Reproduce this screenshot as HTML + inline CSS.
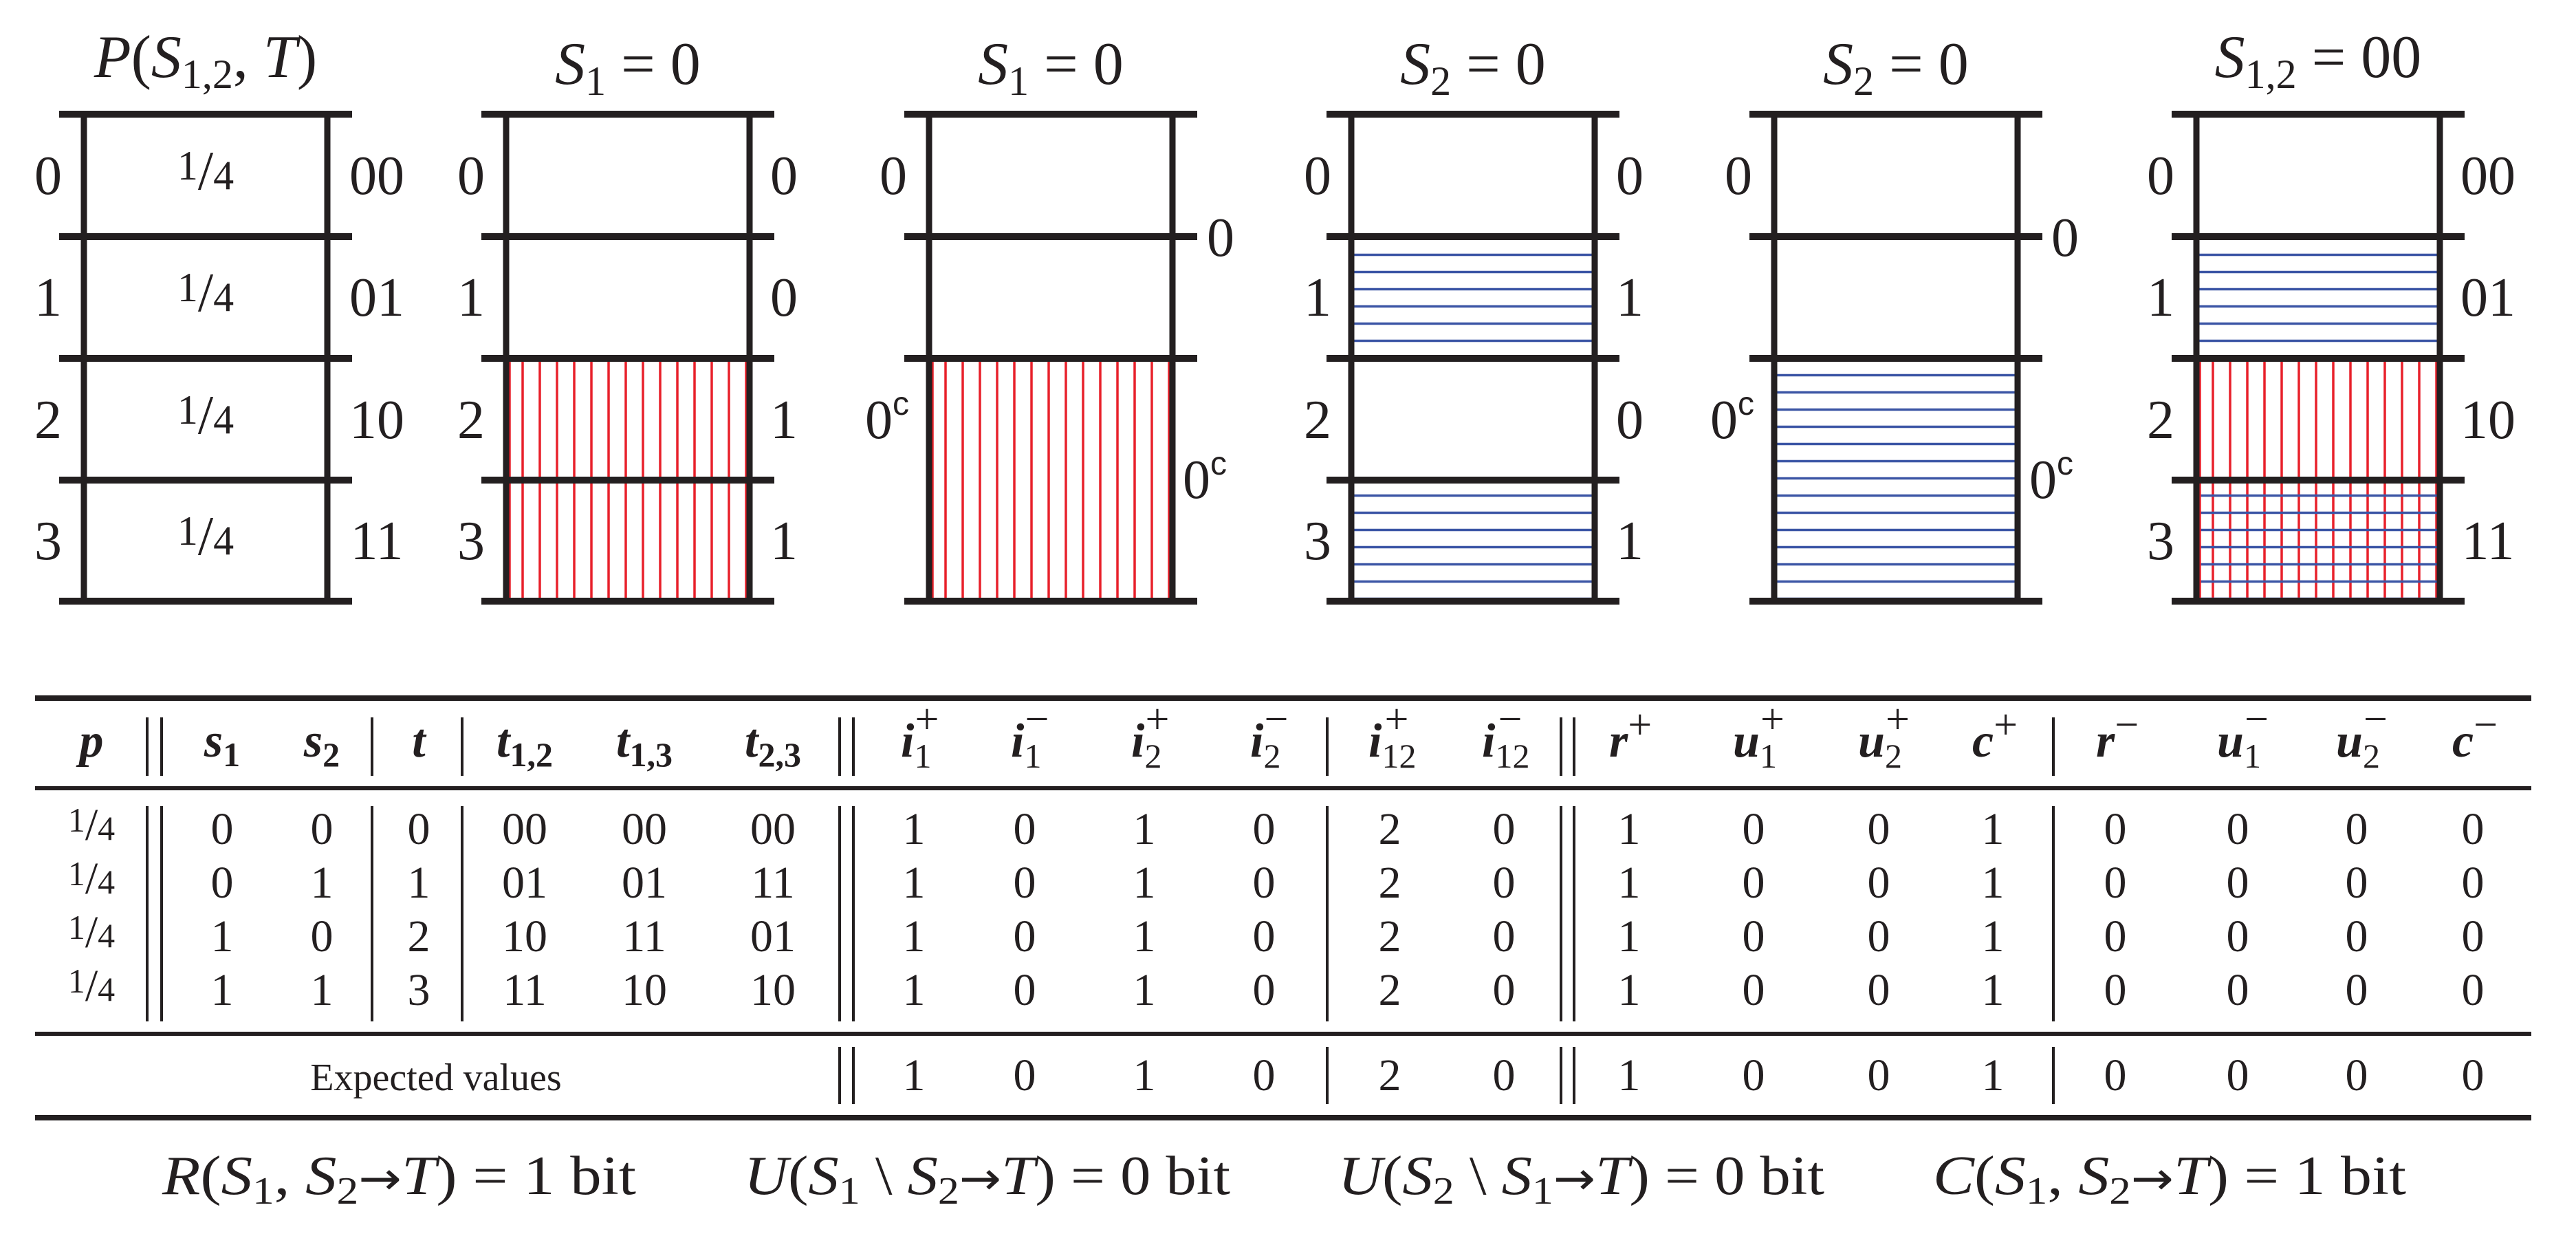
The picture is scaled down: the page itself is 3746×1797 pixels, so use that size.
<!DOCTYPE html>
<html><head><meta charset="utf-8"><style>
html,body{margin:0;padding:0;background:#fff}
svg{display:block}
text{font-family:"Liberation Serif",serif;fill:#231f20}
.lab{font-size:80px}
.ttl{font-size:88px}
.td{font-size:66px}
.th{font-size:70px;font-weight:bold}
.fm{font-size:80px}
.i{font-style:italic}
.ar{font-family:"DejaVu Sans",sans-serif;font-size:66px}
</style></head><body>
<svg width="3746" height="1797" viewBox="0 0 3746 1797" xmlns="http://www.w3.org/2000/svg">
<defs>
<pattern id="b" patternUnits="userSpaceOnUse" x="0" y="8" width="40" height="25"><line x1="0" y1="12.5" x2="40" y2="12.5" stroke="#3b55a5" stroke-width="3.5"/></pattern>
<pattern id="r2" patternUnits="userSpaceOnUse" x="747.5" y="0" width="25" height="40"><line x1="12.5" y1="0" x2="12.5" y2="40" stroke="#e8202a" stroke-width="3.5"/></pattern>
<pattern id="r3" patternUnits="userSpaceOnUse" x="1362.5" y="0" width="25" height="40"><line x1="12.5" y1="0" x2="12.5" y2="40" stroke="#e8202a" stroke-width="3.5"/></pattern>
<pattern id="r6" patternUnits="userSpaceOnUse" x="3205.5" y="0" width="25" height="40"><line x1="12.5" y1="0" x2="12.5" y2="40" stroke="#e8202a" stroke-width="3.5"/></pattern>
</defs>

<rect x="740" y="521" width="346" height="353" fill="url(#r2)"/>
<rect x="1355" y="521" width="346" height="353" fill="url(#r3)"/>
<rect x="1969" y="344" width="346" height="177" fill="url(#b)"/>
<rect x="1969" y="698" width="346" height="176" fill="url(#b)"/>
<rect x="2584" y="521" width="346" height="353" fill="url(#b)"/>
<rect x="3198" y="344" width="346" height="177" fill="url(#b)"/>
<rect x="3198" y="521" width="346" height="353" fill="url(#r6)"/>
<rect x="3198" y="698" width="346" height="176" fill="url(#b)"/>
<g stroke="#e8202a" stroke-width="3.5">
<line x1="741" y1="521" x2="741" y2="874"/><line x1="1356" y1="521" x2="1356" y2="874"/><line x1="3199" y1="521" x2="3199" y2="874"/>
</g>

<g stroke="#231f20" stroke-width="10" fill="none">
<path d="M86 166H512M86 344H512M86 521H512M86 698H512M86 874H512"/>
<path d="M700 166H1126M700 344H1126M700 521H1126M700 698H1126M700 874H1126"/>
<path d="M1315 166H1741M1315 344H1741M1315 521H1741M1315 874H1741"/>
<path d="M1929 166H2355M1929 344H2355M1929 521H2355M1929 698H2355M1929 874H2355"/>
<path d="M2544 166H2970M2544 344H2970M2544 521H2970M2544 874H2970"/>
<path d="M3158 166H3584M3158 344H3584M3158 521H3584M3158 698H3584M3158 874H3584"/>
</g>
<g stroke="#231f20" stroke-width="9">
<path d="M122 166V874M476 166V874M736 166V874M1090 166V874M1351 166V874M1705 166V874M1965 166V874M2319 166V874M2580 166V874M2934 166V874M3194 166V874M3548 166V874"/>
</g>

<text class="ttl" x="299" y="112" text-anchor="middle"><tspan class="i">P</tspan>(<tspan class="i">S</tspan><tspan font-size="60" dy="16">1,2</tspan><tspan dy="-16">, </tspan><tspan class="i">T</tspan>)</text>
<text class="ttl" x="913" y="122" text-anchor="middle"><tspan class="i">S</tspan><tspan font-size="60" dy="16">1</tspan><tspan dy="-16"> = 0</tspan></text>
<text class="ttl" x="1528" y="122" text-anchor="middle"><tspan class="i">S</tspan><tspan font-size="60" dy="16">1</tspan><tspan dy="-16"> = 0</tspan></text>
<text class="ttl" x="2142" y="122" text-anchor="middle"><tspan class="i">S</tspan><tspan font-size="60" dy="16">2</tspan><tspan dy="-16"> = 0</tspan></text>
<text class="ttl" x="2757" y="122" text-anchor="middle"><tspan class="i">S</tspan><tspan font-size="60" dy="16">2</tspan><tspan dy="-16"> = 0</tspan></text>
<text class="ttl" x="3371" y="112" text-anchor="middle"><tspan class="i">S</tspan><tspan font-size="60" dy="16">1,2</tspan><tspan dy="-16"> = 00</tspan></text>

<g class="lab" text-anchor="middle">
<text x="70" y="282">0</text><text x="70" y="459">1</text><text x="70" y="637">2</text><text x="70" y="813">3</text>
<text x="548" y="282">00</text><text x="548" y="459">01</text><text x="548" y="637">10</text><text x="548" y="813">11</text>
</g>
<g text-anchor="middle" font-size="60">
<text x="299" y="275"><tspan dy="-14">1</tspan><tspan dy="14" font-size="80">/</tspan><tspan>4</tspan></text>
<text x="299" y="452"><tspan dy="-14">1</tspan><tspan dy="14" font-size="80">/</tspan><tspan>4</tspan></text>
<text x="299" y="630"><tspan dy="-14">1</tspan><tspan dy="14" font-size="80">/</tspan><tspan>4</tspan></text>
<text x="299" y="806"><tspan dy="-14">1</tspan><tspan dy="14" font-size="80">/</tspan><tspan>4</tspan></text>
</g>

<g class="lab" text-anchor="middle">
<text x="685" y="282">0</text><text x="685" y="459">1</text><text x="685" y="637">2</text><text x="685" y="813">3</text>
<text x="1140" y="282">0</text><text x="1140" y="459">0</text><text x="1140" y="637">1</text><text x="1140" y="813">1</text>
</g>

<g class="lab">
<text x="1299" y="282" text-anchor="middle">0</text>
<text x="1775" y="372" text-anchor="middle">0</text>
<text x="1258" y="637">0<tspan font-family="Liberation Sans,sans-serif" font-size="48" dy="-34">c</tspan></text>
<text x="1720" y="724">0<tspan font-family="Liberation Sans,sans-serif" font-size="48" dy="-34">c</tspan></text>
</g>

<g class="lab" text-anchor="middle">
<text x="1916" y="282">0</text><text x="1916" y="459">1</text><text x="1916" y="637">2</text><text x="1916" y="813">3</text>
<text x="2370" y="282">0</text><text x="2370" y="459">1</text><text x="2370" y="637">0</text><text x="2370" y="813">1</text>
</g>

<g class="lab">
<text x="2528" y="282" text-anchor="middle">0</text>
<text x="3003" y="372" text-anchor="middle">0</text>
<text x="2487" y="637">0<tspan font-family="Liberation Sans,sans-serif" font-size="48" dy="-34">c</tspan></text>
<text x="2951" y="724">0<tspan font-family="Liberation Sans,sans-serif" font-size="48" dy="-34">c</tspan></text>
</g>

<g class="lab" text-anchor="middle">
<text x="3142" y="282">0</text><text x="3142" y="459">1</text><text x="3142" y="637">2</text><text x="3142" y="813">3</text>
<text x="3618" y="282">00</text><text x="3618" y="459">01</text><text x="3618" y="637">10</text><text x="3618" y="813">11</text>
</g>

<g stroke="#231f20">
<line x1="51" y1="1015" x2="3681" y2="1015" stroke-width="8"/>
<line x1="51" y1="1146" x2="3681" y2="1146" stroke-width="6"/>
<line x1="51" y1="1503" x2="3681" y2="1503" stroke-width="6"/>
<line x1="51" y1="1625" x2="3681" y2="1625" stroke-width="8"/>
</g>
<g stroke="#231f20" stroke-width="4">
<path d="M214 1043V1128M235 1043V1128M541 1043V1128M672 1043V1128M1221 1043V1128M1241 1043V1128M1930 1043V1128M2270 1043V1128M2289 1043V1128M2986 1043V1128"/>
<path d="M214 1172V1485M235 1172V1485M541 1172V1485M672 1172V1485M1221 1172V1485M1241 1172V1485M1930 1172V1485M2270 1172V1485M2289 1172V1485M2986 1172V1485"/>
<path d="M1221 1522V1605M1241 1522V1605M1930 1522V1605M2270 1522V1605M2289 1522V1605M2986 1522V1605"/>
</g>

<g class="th" text-anchor="middle">
<text x="133" y="1100" class="i">p</text>
<text x="323" y="1100"><tspan class="i">s</tspan><tspan font-size="50" dy="14">1</tspan></text>
<text x="468" y="1100"><tspan class="i">s</tspan><tspan font-size="50" dy="14">2</tspan></text>
<text x="609" y="1100" class="i">t</text>
<text x="763" y="1100"><tspan class="i">t</tspan><tspan font-size="50" dy="14">1,2</tspan></text>
<text x="937" y="1100"><tspan class="i">t</tspan><tspan font-size="50" dy="14">1,3</tspan></text>
<text x="1124" y="1100"><tspan class="i">t</tspan><tspan font-size="50" dy="14">2,3</tspan></text>
</g>
<g class="th">
<text x="1310" y="1100"><tspan class="i">i</tspan><tspan font-size="50" font-weight="normal" dy="16">1</tspan><tspan font-size="62" font-weight="normal" dx="-24" dy="-50">+</tspan></text>
<text x="1470" y="1100"><tspan class="i">i</tspan><tspan font-size="50" font-weight="normal" dy="16">1</tspan><tspan font-size="62" font-weight="normal" dx="-24" dy="-50">−</tspan></text>
<text x="1645" y="1100"><tspan class="i">i</tspan><tspan font-size="50" font-weight="normal" dy="16">2</tspan><tspan font-size="62" font-weight="normal" dx="-24" dy="-50">+</tspan></text>
<text x="1818" y="1100"><tspan class="i">i</tspan><tspan font-size="50" font-weight="normal" dy="16">2</tspan><tspan font-size="62" font-weight="normal" dx="-24" dy="-50">−</tspan></text>
<text x="1990" y="1100"><tspan class="i">i</tspan><tspan font-size="50" font-weight="normal" dy="16">12</tspan><tspan font-size="62" font-weight="normal" dx="-46" dy="-50">+</tspan></text>
<text x="2155" y="1100"><tspan class="i">i</tspan><tspan font-size="50" font-weight="normal" dy="16">12</tspan><tspan font-size="62" font-weight="normal" dx="-46" dy="-50">−</tspan></text>
<text x="2340" y="1100"><tspan class="i">r</tspan><tspan font-size="62" font-weight="normal" dy="-26">+</tspan></text>
<text x="2520" y="1100"><tspan class="i">u</tspan><tspan font-size="50" font-weight="normal" dy="16">1</tspan><tspan font-size="62" font-weight="normal" dx="-24" dy="-50">+</tspan></text>
<text x="2702" y="1100"><tspan class="i">u</tspan><tspan font-size="50" font-weight="normal" dy="16">2</tspan><tspan font-size="62" font-weight="normal" dx="-24" dy="-50">+</tspan></text>
<text x="2868" y="1100"><tspan class="i">c</tspan><tspan font-size="62" font-weight="normal" dy="-26">+</tspan></text>
<text x="3048" y="1100"><tspan class="i">r</tspan><tspan font-size="62" font-weight="normal" dy="-26">−</tspan></text>
<text x="3224" y="1100"><tspan class="i">u</tspan><tspan font-size="50" font-weight="normal" dy="16">1</tspan><tspan font-size="62" font-weight="normal" dx="-24" dy="-50">−</tspan></text>
<text x="3397" y="1100"><tspan class="i">u</tspan><tspan font-size="50" font-weight="normal" dy="16">2</tspan><tspan font-size="62" font-weight="normal" dx="-24" dy="-50">−</tspan></text>
<text x="3566" y="1100"><tspan class="i">c</tspan><tspan font-size="62" font-weight="normal" dy="-26">−</tspan></text>
</g>

<g class="td" text-anchor="middle">
<text x="133" y="1221" font-size="50"><tspan dy="-12">1</tspan><tspan dy="12" font-size="66">/</tspan>4</text>
<text x="133" y="1299" font-size="50"><tspan dy="-12">1</tspan><tspan dy="12" font-size="66">/</tspan>4</text>
<text x="133" y="1377" font-size="50"><tspan dy="-12">1</tspan><tspan dy="12" font-size="66">/</tspan>4</text>
<text x="133" y="1455" font-size="50"><tspan dy="-12">1</tspan><tspan dy="12" font-size="66">/</tspan>4</text>

<text x="323" y="1227">0</text><text x="468" y="1227">0</text><text x="609" y="1227">0</text><text x="763" y="1227">00</text><text x="937" y="1227">00</text><text x="1124" y="1227">00</text>
<text x="323" y="1305">0</text><text x="468" y="1305">1</text><text x="609" y="1305">1</text><text x="763" y="1305">01</text><text x="937" y="1305">01</text><text x="1124" y="1305">11</text>
<text x="323" y="1383">1</text><text x="468" y="1383">0</text><text x="609" y="1383">2</text><text x="763" y="1383">10</text><text x="937" y="1383">11</text><text x="1124" y="1383">01</text>
<text x="323" y="1461">1</text><text x="468" y="1461">1</text><text x="609" y="1461">3</text><text x="763" y="1461">11</text><text x="937" y="1461">10</text><text x="1124" y="1461">10</text>

<text x="1329" y="1227">1</text><text x="1490" y="1227">0</text><text x="1664" y="1227">1</text><text x="1838" y="1227">0</text><text x="2021" y="1227">2</text><text x="2187" y="1227">0</text><text x="2369" y="1227">1</text><text x="2550" y="1227">0</text><text x="2732" y="1227">0</text><text x="2898" y="1227">1</text><text x="3076" y="1227">0</text><text x="3254" y="1227">0</text><text x="3427" y="1227">0</text><text x="3596" y="1227">0</text>
<text x="1329" y="1305">1</text><text x="1490" y="1305">0</text><text x="1664" y="1305">1</text><text x="1838" y="1305">0</text><text x="2021" y="1305">2</text><text x="2187" y="1305">0</text><text x="2369" y="1305">1</text><text x="2550" y="1305">0</text><text x="2732" y="1305">0</text><text x="2898" y="1305">1</text><text x="3076" y="1305">0</text><text x="3254" y="1305">0</text><text x="3427" y="1305">0</text><text x="3596" y="1305">0</text>
<text x="1329" y="1383">1</text><text x="1490" y="1383">0</text><text x="1664" y="1383">1</text><text x="1838" y="1383">0</text><text x="2021" y="1383">2</text><text x="2187" y="1383">0</text><text x="2369" y="1383">1</text><text x="2550" y="1383">0</text><text x="2732" y="1383">0</text><text x="2898" y="1383">1</text><text x="3076" y="1383">0</text><text x="3254" y="1383">0</text><text x="3427" y="1383">0</text><text x="3596" y="1383">0</text>
<text x="1329" y="1461">1</text><text x="1490" y="1461">0</text><text x="1664" y="1461">1</text><text x="1838" y="1461">0</text><text x="2021" y="1461">2</text><text x="2187" y="1461">0</text><text x="2369" y="1461">1</text><text x="2550" y="1461">0</text><text x="2732" y="1461">0</text><text x="2898" y="1461">1</text><text x="3076" y="1461">0</text><text x="3254" y="1461">0</text><text x="3427" y="1461">0</text><text x="3596" y="1461">0</text>

<text x="634" y="1585" font-size="56">Expected values</text>
<text x="1329" y="1585">1</text><text x="1490" y="1585">0</text><text x="1664" y="1585">1</text><text x="1838" y="1585">0</text><text x="2021" y="1585">2</text><text x="2187" y="1585">0</text><text x="2369" y="1585">1</text><text x="2550" y="1585">0</text><text x="2732" y="1585">0</text><text x="2898" y="1585">1</text><text x="3076" y="1585">0</text><text x="3254" y="1585">0</text><text x="3427" y="1585">0</text><text x="3596" y="1585">0</text>
</g>

<g class="fm">
<text x="236" y="1736" textLength="689" lengthAdjust="spacingAndGlyphs"><tspan class="i">R</tspan>(<tspan class="i">S</tspan><tspan font-size="56" dy="14">1</tspan><tspan dy="-14">, </tspan><tspan class="i">S</tspan><tspan font-size="56" dy="14">2</tspan><tspan dy="-14" class="ar">→</tspan><tspan class="i">T</tspan>) = 1 bit</text>
<text x="1082" y="1736" textLength="707" lengthAdjust="spacingAndGlyphs"><tspan class="i">U</tspan>(<tspan class="i">S</tspan><tspan font-size="56" dy="14">1</tspan><tspan dy="-14"> \ </tspan><tspan class="i">S</tspan><tspan font-size="56" dy="14">2</tspan><tspan dy="-14" class="ar">→</tspan><tspan class="i">T</tspan>) = 0 bit</text>
<text x="1946" y="1736" textLength="707" lengthAdjust="spacingAndGlyphs"><tspan class="i">U</tspan>(<tspan class="i">S</tspan><tspan font-size="56" dy="14">2</tspan><tspan dy="-14"> \ </tspan><tspan class="i">S</tspan><tspan font-size="56" dy="14">1</tspan><tspan dy="-14" class="ar">→</tspan><tspan class="i">T</tspan>) = 0 bit</text>
<text x="2811" y="1736" textLength="688" lengthAdjust="spacingAndGlyphs"><tspan class="i">C</tspan>(<tspan class="i">S</tspan><tspan font-size="56" dy="14">1</tspan><tspan dy="-14">, </tspan><tspan class="i">S</tspan><tspan font-size="56" dy="14">2</tspan><tspan dy="-14" class="ar">→</tspan><tspan class="i">T</tspan>) = 1 bit</text>
</g>
</svg>
</body></html>
